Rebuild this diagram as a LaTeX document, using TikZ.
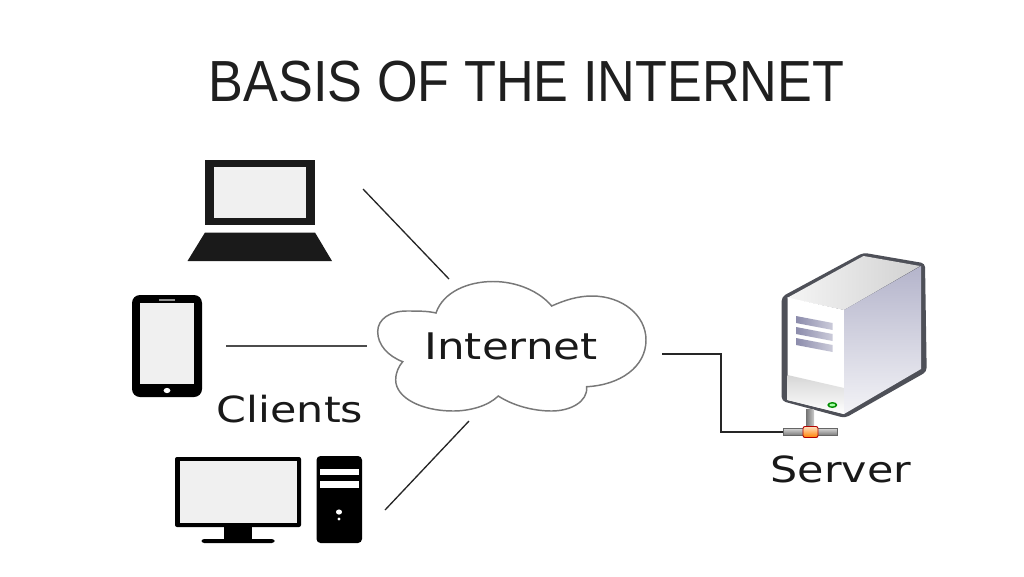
\documentclass[tikz,border=0pt]{standalone}
\usepackage{fontspec}
\setmainfont{Liberation Sans}
\newfontfamily\labelfont{DejaVu Sans}
\usetikzlibrary{arrows.meta,positioning}
\definecolor{inkblack}{RGB}{26,26,26}
\definecolor{screengray}{RGB}{240,240,240}
\definecolor{cloudline}{RGB}{120,120,120}
\definecolor{caseline}{RGB}{78,80,88}
\definecolor{caseside}{RGB}{176,176,200}
\definecolor{stripeblue}{RGB}{140,140,172}
\newcommand{\widetag}[1]{\scalebox{1.19}[1]{#1}}

\begin{document}
\begin{tikzpicture}[
    x=0.75pt,y=-0.75pt,
    title/.style={font=\fontsize{43.5}{50}\selectfont,text=black!88,inner sep=0pt},
    tag/.style={font=\labelfont\fontsize{27}{32}\selectfont,text=black!90,inner sep=0pt},
    solid icon/.style={fill=inkblack,draw=none},
    pure icon/.style={fill=black,draw=none},
    screen/.style={fill=screengray,draw=none},
    wire/.style={draw=black!85,line width=1pt}
  ]
    \useasboundingbox (0,0) rectangle (1024,576);
    \node[title] (heading) at (526.5,82) {\scalebox{0.9}[1]{BASIS OF THE INTERNET}};

    % laptop
    \fill[solid icon] (205,160) rectangle (315,225);
    \fill[screen] (214,167) rectangle (305.5,218);
    \fill[solid icon] (205,232.5) -- (315,232.5) -- (332,261) -- (187.5,261) -- cycle;

    % tablet
    \fill[pure icon,rounded corners=6] (132,295) rectangle (202,397);
    \fill[screen] (140,303) rectangle (194,384);
    \fill[screengray!60!black] (159,299) rectangle (175,300.5);
    \fill[white] (167,390.5) ellipse (3.4 and 2.6);

    % desktop
    \fill[pure icon,rounded corners=1.5] (175,457) rectangle (301,527);
    \fill[screen] (179.5,460.5) rectangle (297,523);
    \fill[pure icon] (223.5,526) rectangle (252,540);
    \fill[pure icon,rounded corners=2] (201.5,539) rectangle (274.5,543);
    \fill[pure icon,rounded corners=3] (316.5,456) rectangle (362,543);
    \fill[white] (319.5,468.5) rectangle (358.5,475);
    \fill[white] (319.5,481) rectangle (358.5,487.5);
    \fill[white] (339,512) ellipse (3 and 2.6);
    \fill[white] (339,519) circle (1.6);

    % cloud
    \draw[cloudline,line width=1.1pt,fill=white] (436,313)
      .. controls (443,292) and (468,281.5) .. (493,281.5)
      .. controls (518,281.5) and (540,292) .. (551.7,306)
      .. controls (565,300) and (578,296) .. (592,296)
      .. controls (622,296) and (646,315) .. (646,340)
      .. controls (646,367) and (620,385) .. (586.7,386.7)
      .. controls (588,402) and (570,411) .. (551.7,411)
      .. controls (532,411) and (512,405) .. (498.3,396)
      .. controls (488,406) and (470,411) .. (453,411)
      .. controls (422,411) and (395.7,398) .. (395.7,380)
      .. controls (395.7,372) and (399,366) .. (402.7,361.7)
      .. controls (388,356) and (377.7,345) .. (377.7,331.7)
      .. controls (377.7,319) and (390,311) .. (406.7,311)
      .. controls (418,311) and (428,311) .. (436,313) -- cycle;
    \node[tag,font=\labelfont\fontsize{27.5}{32}\selectfont] (internet) at (511,346.5) {\widetag{Internet}};
    \node[tag] (clients) at (290,409.5) {\widetag{Clients}};
    \node[tag] (server) at (841,469.5) {\widetag{Server}};

    % server box
    \fill[caseline,rounded corners=3] (781.7,296.7) -- (863.3,252.7) -- (925,263.3)
      -- (926.7,371.7) -- (845,418) -- (781.7,401) -- cycle;
    \shade[left color=black!4,right color=black!18] (787,298) -- (863.5,256) -- (920,266) -- (844,310) -- cycle;
    \fill[white] (787.5,297.5) -- (844,310) -- (844,414) -- (787.5,400) -- cycle;
    \shade[top color=black!16,bottom color=white] (787.5,375) -- (844,388) -- (844,414) -- (787.5,400) -- cycle;
    \shade[top color=caseside!95,bottom color=caseside!15] (844,310) -- (921,266) -- (921,369) -- (844,414) -- cycle;
    \foreach \ytop in {316,327,338}{
      \shade[left color=stripeblue,right color=stripeblue!45]
        (796,\ytop) -- (832.7,\ytop+7) -- (832.7,\ytop+14) -- (796,\ytop+7) -- cycle;
    }
    \fill[green!55!black] (832.3,405) ellipse (5 and 3);
    \fill[green!35] (832.3,405) ellipse (3 and 1.4);

    % network tap
    \shade[left color=black!55,right color=black!20] (806,409) rectangle (814,430);
    \shade[top color=black!15,bottom color=black!50,draw=black!60,line width=0.4pt] (783.3,428) rectangle (837.3,435);
    \shade[top color=orange!25,bottom color=orange,draw=red!70!black,line width=0.7pt,rounded corners=1.5] (803,426.5) rectangle (818,437.5);
    \coordinate (tap) at (783.3,432);

    % connectors
    \coordinate (laptopend) at (363,189);
    \coordinate (cloudtop) at (449,279);
    \coordinate (tabletend) at (226,346);
    \coordinate (cloudleft) at (367,346);
    \coordinate (desktopend) at (385,510);
    \coordinate (cloudbottom) at (469,421);
    \coordinate (cloudright) at (662,354);
    \coordinate (serverbend) at (721,354);
    \coordinate (tapbend) at (721,432);
    \draw[wire] (laptopend) -- (cloudtop);
    \draw[wire,draw=black!70] (tabletend) -- (cloudleft);
    \draw[wire] (desktopend) -- (cloudbottom);
    \draw[wire] (cloudright) -- (serverbend) -- (tapbend) -- (tap);
\end{tikzpicture}
\end{document}
